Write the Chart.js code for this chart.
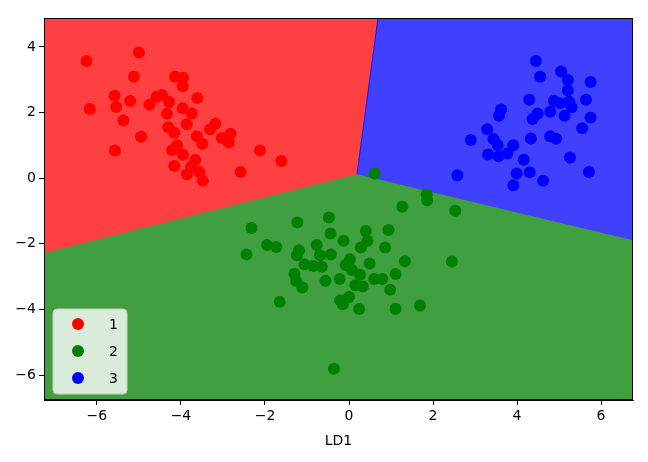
<!DOCTYPE html>
<html>
<head>
<meta charset="utf-8">
<script src="https://cdn.jsdelivr.net/npm/chart.js@4.4.0/dist/chart.umd.min.js"></script>
<style>
  html, body { margin: 0; padding: 0; background: #fff; }
  #wrap { width: 648px; height: 462px; }
</style>
</head>
<body>
<div id="wrap"><canvas id="chart"></canvas></div>
<script>
// classes and colours
const classLabels = ['1', '2', '3'];
const pointColors = ['#ff0000', '#008000', '#0000ff'];
const regionColors = ['#ff4040', '#40a040', '#4040ff'];

// axis ticks and ranges
const xTicks = [-6, -4, -2, 0, 2, 4, 6];
const yTicks = [-6, -4, -2, 0, 2, 4];
const xRange = [-7.26, 6.76];
const yRange = [-6.76, 4.88];

// samples projected on LD1 / LD2
const class1 = [
  [-6.25, 3.57], [-5.0, 3.83], [-5.12, 3.09], [-4.14, 3.09], [-3.95, 3.06], [-3.96, 2.80],
  [-5.58, 2.51], [-5.54, 2.17], [-6.17, 2.11], [-5.21, 2.35], [-4.75, 2.24], [-4.58, 2.48],
  [-4.45, 2.53], [-4.28, 2.32], [-4.33, 1.96], [-3.61, 2.44], [-3.96, 2.13], [-3.74, 1.97],
  [-5.37, 1.76], [-3.86, 1.64], [-4.30, 1.55], [-4.16, 1.38], [-4.95, 1.26], [-5.57, 0.84],
  [-3.31, 1.48], [-3.18, 1.66], [-3.62, 1.28], [-3.49, 1.05], [-3.03, 1.22], [-2.82, 1.35],
  [-2.86, 1.09], [-4.09, 1.00], [-4.21, 0.85], [-3.95, 0.71], [-3.66, 0.55], [-4.16, 0.37],
  [-3.76, 0.35], [-3.86, 0.12], [-3.56, 0.19], [-3.48, -0.08], [-2.58, 0.19], [-2.12, 0.84],
  [-1.61, 0.52]
];
const class2 = [
  [0.61, 0.14], [1.85, -0.50], [1.86, -0.67], [1.27, -0.87], [2.53, -0.99], [-2.32, -1.52],
  [-1.23, -1.35], [-0.48, -1.20], [-0.44, -1.69], [0.40, -1.61], [0.94, -1.58], [-0.13, -1.91],
  [0.44, -1.91], [-1.95, -2.04], [-1.73, -2.10], [-2.44, -2.33], [-0.77, -2.04], [0.28, -2.11],
  [0.86, -2.11], [-1.19, -2.20], [-1.24, -2.35], [-0.69, -2.35], [-0.43, -2.33], [-1.06, -2.63],
  [-0.85, -2.68], [-0.65, -2.70], [0.02, -2.47], [-0.08, -2.65], [0.07, -2.80], [0.49, -2.60],
  [1.33, -2.53], [2.45, -2.54], [-1.30, -2.91], [-1.26, -3.13], [-1.11, -3.33], [-0.56, -3.13],
  [-0.22, -3.07], [0.26, -2.94], [0.15, -3.26], [0.33, -3.30], [0.60, -3.07], [0.79, -3.07],
  [1.11, -2.92], [0.98, -3.40], [-1.65, -3.77], [-0.21, -3.72], [-0.15, -3.84], [0.00, -3.62],
  [0.24, -3.99], [1.11, -3.98], [1.69, -3.88], [-0.36, -5.81]
];
const class3 = [
  [4.45, 3.57], [4.55, 3.09], [5.05, 3.25], [5.21, 2.99], [5.75, 2.93], [5.21, 2.67],
  [4.29, 2.39], [4.88, 2.36], [5.02, 2.28], [5.24, 2.33], [5.30, 2.16], [5.64, 2.39],
  [4.79, 2.02], [4.49, 1.97], [4.37, 1.80], [5.13, 1.90], [5.75, 1.85], [5.55, 1.52],
  [3.62, 2.09], [3.57, 1.90], [3.29, 1.49], [2.90, 1.16], [3.44, 1.19], [3.54, 1.01],
  [3.91, 1.00], [4.33, 1.21], [4.79, 1.28], [4.93, 1.20], [3.31, 0.72], [3.56, 0.67],
  [3.77, 0.75], [4.16, 0.56], [5.26, 0.63], [4.30, 0.18], [3.99, 0.14], [5.71, 0.19],
  [2.58, 0.09], [3.91, -0.22], [4.62, -0.08]
];

// decision boundaries (outlines of the regions)
const redRegion = [[xRange[0], yRange[1]], [xRange[1], yRange[1]]];
const blueRegion = [[0.19, 0.12], [0.69, yRange[1]], [xRange[1], yRange[1]]];
const greenRegion = [[xRange[0], -2.28], [0.19, 0.12], [xRange[1], -1.89]];

const toXY = arr => arr.map(p => ({ x: p[0], y: p[1] }));
const fmt = v => (v < 0 ? '\u2212' + Math.abs(v) : String(v));
const font = { family: 'DejaVu Sans', size: 14 };

function regionSet(pts, color, order, border) {
  return {
    type: 'line',
    data: toXY(pts),
    backgroundColor: color,
    borderColor: border || color,
    borderWidth: border ? 1 : 0,
    pointRadius: 0,
    fill: 'start',
    tension: 0,
    order: order
  };
}

function pointSet(pts, i) {
  return {
    type: 'scatter',
    label: classLabels[i],
    data: toXY(pts),
    backgroundColor: pointColors[i],
    borderColor: pointColors[i],
    borderWidth: 0,
    pointRadius: 6,
    order: 0
  };
}

// black frame round the plot
const framePlugin = {
  id: 'frame',
  afterDatasetsDraw(chart) {
    const a = chart.chartArea;
    const ctx = chart.ctx;
    ctx.save();
    ctx.strokeStyle = '#000';
    ctx.lineWidth = 1;
    ctx.strokeRect(a.left + 0.5, a.top + 0.5, a.right - a.left - 1, a.bottom - a.top - 1);
    ctx.restore();
  }
};

// matplotlib style legend in the lower left corner
const legendPlugin = {
  id: 'innerLegend',
  afterDraw(chart) {
    const a = chart.chartArea;
    const ctx = chart.ctx;
    const left = a.left + 9, top = a.bottom - 91, w = 74, h = 85;
    ctx.save();
    ctx.beginPath();
    ctx.roundRect(left, top, w, h, 4);
    ctx.fillStyle = 'rgba(255,255,255,0.8)';
    ctx.fill();
    ctx.strokeStyle = '#cccccc';
    ctx.lineWidth = 1;
    ctx.stroke();
    ctx.font = '14px "DejaVu Sans"';
    ctx.textBaseline = 'middle';
    ctx.textAlign = 'left';
    classLabels.forEach((lab, i) => {
      const y = top + 15 + i * 27;
      ctx.beginPath();
      ctx.arc(left + 25, y, 6, 0, Math.PI * 2);
      ctx.fillStyle = pointColors[i];
      ctx.fill();
      ctx.fillStyle = '#000';
      ctx.fillText(lab, left + 56, y + 1);
    });
    ctx.restore();
  }
};

new Chart(document.getElementById('chart'), {
  type: 'scatter',
  data: {
    datasets: [
      pointSet(class1, 0),
      pointSet(class2, 1),
      pointSet(class3, 2),
      regionSet(greenRegion, regionColors[1], 1),
      regionSet(blueRegion, regionColors[2], 2, '#1010ff'),
      regionSet(redRegion, regionColors[0], 3)
    ]
  },
  options: {
    responsive: true,
    maintainAspectRatio: false,
    animation: false,
    layout: { padding: { left: 0, right: 15, top: 18, bottom: 0 } },
    plugins: {
      legend: { display: false },
      tooltip: { enabled: false }
    },
    scales: {
      x: {
        type: 'linear',
        position: 'bottom',
        min: xRange[0],
        max: xRange[1],
        afterBuildTicks: axis => { axis.ticks = xTicks.map(v => ({ value: v })); },
        afterFit: axis => { axis.height = 62; },
        grid: { drawOnChartArea: false, drawTicks: true, tickLength: 5, color: '#000' },
        border: { display: true, color: '#000' },
        ticks: { color: '#000', font: font, padding: 3, maxRotation: 0, callback: v => fmt(v) },
        title: { display: true, text: 'LD1', color: '#000', font: font, padding: { top: 2, bottom: 12 } }
      },
      y: {
        type: 'linear',
        min: yRange[0],
        max: yRange[1],
        afterBuildTicks: axis => { axis.ticks = yTicks.map(v => ({ value: v })); },
        afterFit: axis => { axis.width = 44; },
        grid: { drawOnChartArea: false, drawTicks: true, tickLength: 5, color: '#000' },
        border: { display: true, color: '#000' },
        ticks: { color: '#000', font: font, padding: 3, callback: v => fmt(v) }
      }
    }
  },
  plugins: [framePlugin, legendPlugin]
});
</script>
</body>
</html>
